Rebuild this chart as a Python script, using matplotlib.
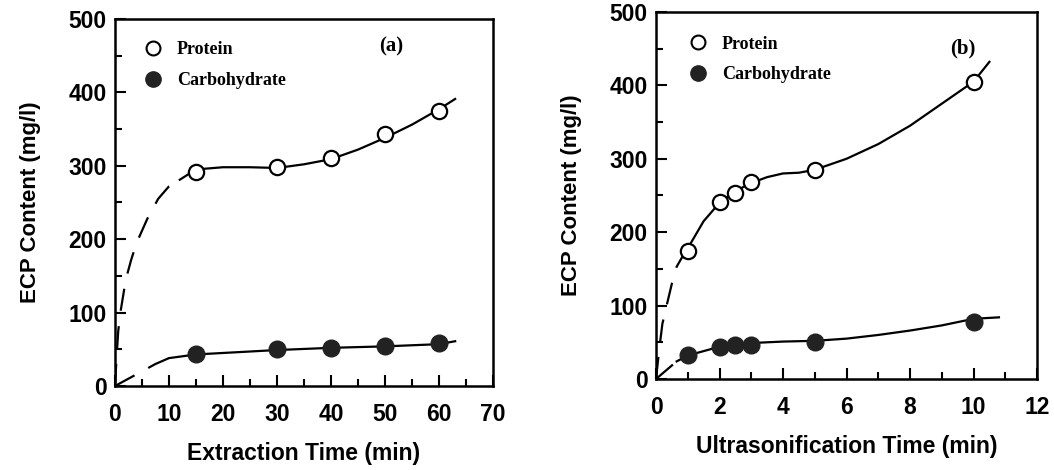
import numpy as np
import matplotlib
matplotlib.use("Agg")
import matplotlib.pyplot as plt
from matplotlib.ticker import MultipleLocator
from matplotlib.lines import Line2D

# ---- (a) extraction time data ----
a_time = [15, 30, 40, 50, 60]
a_protein = [292, 298, 310, 343, 375]
a_carb = [44, 50, 52, 55, 59]

# trend lines
a_prot_fit_x = [12, 15, 20, 25, 30, 35, 40, 45, 50, 55, 60, 63]
a_prot_fit_y = [281, 295, 298, 298, 297, 302, 309, 322, 338, 356, 377, 391]
a_prot_dash_x = [0, 0.3, 0.6, 1, 2, 3, 4, 6, 8, 10, 12]
a_prot_dash_y = [0, 40, 75, 100, 145, 172, 195, 228, 255, 272, 281]
a_carb_fit_x = [10, 15, 20, 30, 40, 50, 60, 63]
a_carb_fit_y = [38, 43, 45, 49, 52, 54, 57, 61]
a_carb_dash_x = [0, 2.5, 5, 7.5, 10]
a_carb_dash_y = [0, 10, 20, 30, 38]

# ---- (b) ultrasonification time data ----
b_time = [1, 2, 2.5, 3, 5, 10]
b_protein = [175, 241, 254, 268, 285, 405]
b_carb = [33, 43, 46, 47, 51, 77]

b_prot_fit_x = [1, 1.5, 2, 2.5, 3, 3.5, 4, 4.5, 5, 6, 7, 8, 9, 10, 10.5]
b_prot_fit_y = [178, 215, 240, 256, 267, 275, 280, 281, 285, 300, 320, 345, 375, 405, 432]
b_prot_dash_x = [0, 0.1, 0.2, 0.34, 0.5, 0.65, 0.85, 1]
b_prot_dash_y = [0, 40, 75, 101, 130, 153, 168, 178]
b_carb_fit_x = [0.65, 1, 1.5, 2, 2.5, 3, 4, 5, 6, 7, 8, 9, 10, 10.8]
b_carb_fit_y = [24, 32, 38, 44, 47, 49, 51, 52, 55, 60, 66, 73, 82, 84]
b_carb_dash_x = [0, 0.65]
b_carb_dash_y = [0, 24]

sans = "Liberation Sans"
serif = "Liberation Serif"

fig = plt.figure(figsize=(10.54, 4.70), dpi=100)
ax1 = fig.add_axes([0.1091, 0.1787, 0.3586, 0.781])
ax2 = fig.add_axes([0.6224, 0.1936, 0.3615, 0.781])


def style(ax, xmax, xmajor, xminor, xlabel, tag, tagx, tagy, legx, legy):
    ax.set_xlim(0, xmax)
    ax.set_ylim(0, 500)
    ax.xaxis.set_major_locator(MultipleLocator(xmajor))
    ax.xaxis.set_minor_locator(MultipleLocator(xminor))
    ax.yaxis.set_major_locator(MultipleLocator(100))
    ax.yaxis.set_minor_locator(MultipleLocator(50))
    ax.tick_params(which="both", direction="in", width=1.5, top=False, right=False)
    ax.tick_params(which="major", length=8)
    ax.tick_params(which="minor", length=5)
    ax.tick_params(axis="x", pad=12)
    ax.tick_params(axis="y", pad=6)
    for lab in ax.get_xticklabels() + ax.get_yticklabels():
        lab.set_fontfamily(sans)
        lab.set_fontweight("bold")
        lab.set_fontsize(16.5)
    for s in ax.spines.values():
        s.set_linewidth(1.8)
    ax.set_xlabel(xlabel, fontfamily=sans, fontweight="bold", fontsize=16.5, labelpad=12)
    ax.set_ylabel("ECP Content (mg/l)", fontfamily=sans, fontweight="bold", fontsize=16, labelpad=20)
    ax.text(tagx, tagy, tag, transform=ax.transAxes, fontfamily=serif,
            fontweight="bold", fontsize=15, ha="center", va="center")
    handles = [
        Line2D([], [], ls="none", marker="o", mfc="white", mec="black", mew=1.5, ms=10),
        Line2D([], [], ls="none", marker="o", mfc="#222222", mec="#222222", ms=11),
    ]
    ax.legend(handles, ["Protein", "Carbohydrate"], loc="upper left",
              bbox_to_anchor=(legx, legy), frameon=False,
              prop={"family": serif, "weight": "bold", "size": 13},
              handletextpad=0.7, labelspacing=0.75, handlelength=1.2)


def draw(ax, t, prot, carb, pfx, pfy, pdx, pdy, cfx, cfy, cdx, cdy):
    ax.plot(pfx, pfy, color="black", lw=1.6)
    ax.plot(pdx, pdy, color="black", lw=1.6, dashes=(10, 7))
    ax.plot(cfx, cfy, color="black", lw=1.6)
    ax.plot(cdx, cdy, color="black", lw=1.6, dashes=(10, 7))
    ax.plot(t, prot, ls="none", marker="o", mfc="white", mec="black", mew=1.6, ms=11, zorder=3)
    ax.plot(t, carb, ls="none", marker="o", mfc="#222222", mec="#222222", ms=12, zorder=3)


draw(ax1, a_time, a_protein, a_carb, a_prot_fit_x, a_prot_fit_y, a_prot_dash_x, a_prot_dash_y,
     a_carb_fit_x, a_carb_fit_y, a_carb_dash_x, a_carb_dash_y)
draw(ax2, b_time, b_protein, b_carb, b_prot_fit_x, b_prot_fit_y, b_prot_dash_x, b_prot_dash_y,
     b_carb_fit_x, b_carb_fit_y, b_carb_dash_x, b_carb_dash_y)

style(ax1, 70, 10, 5, "Extraction Time (min)", "(a)", 0.73, 0.925, 0.03, 0.983)
style(ax2, 12, 2, 1, "Ultrasonification Time (min)", "(b)", 0.806, 0.9, 0.04, 0.98)

fig.savefig("out.png", dpi=100)
